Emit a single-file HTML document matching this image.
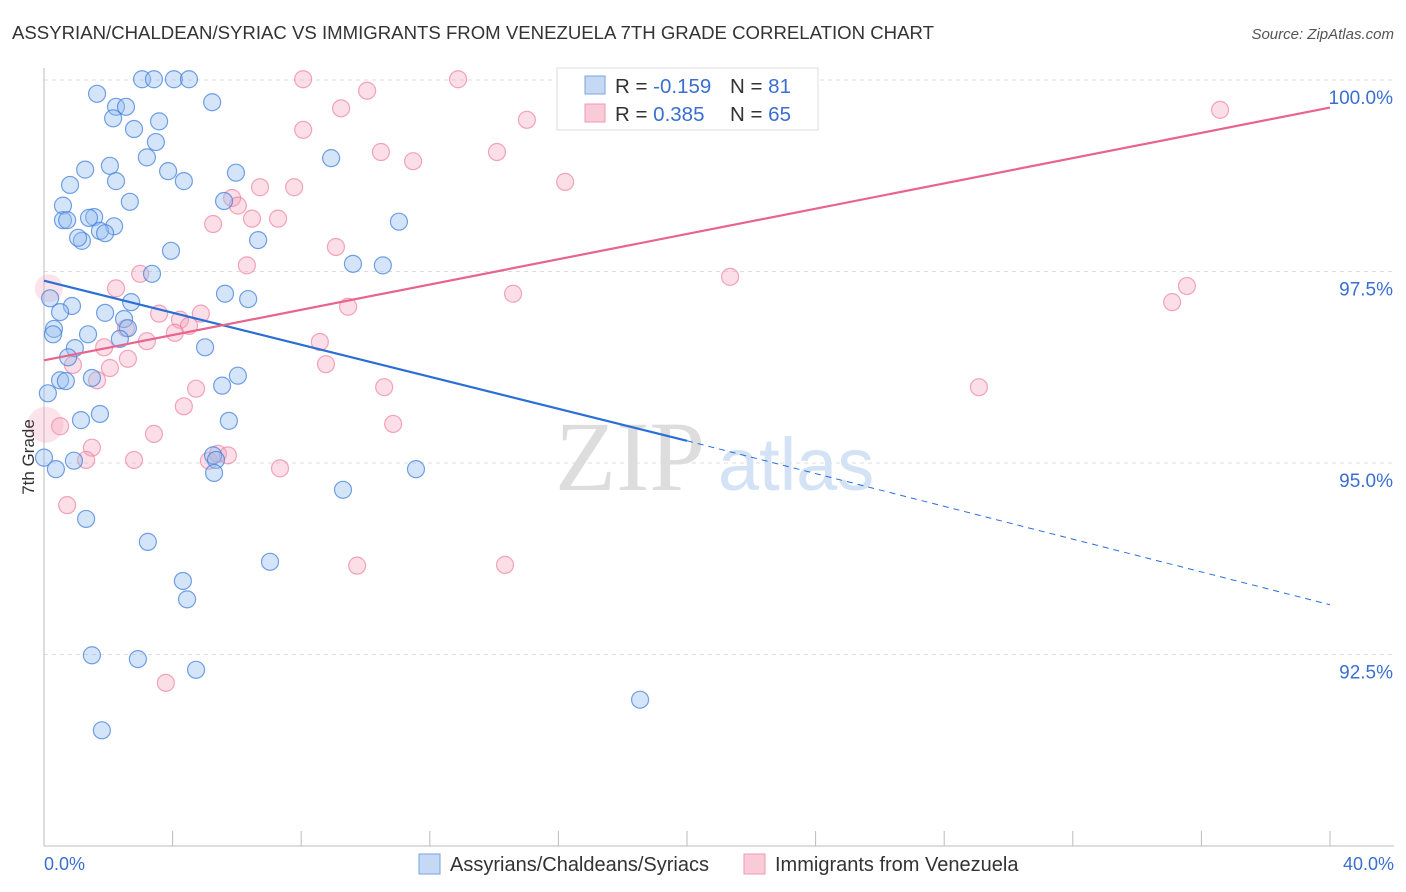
<!DOCTYPE html>
<html><head><meta charset="utf-8"><style>
body{margin:0;background:#fff;font-family:"Liberation Sans",sans-serif;}
svg{display:block}
</style></head><body>
<svg width="1406" height="892">
<text x="12" y="39" font-size="18.6" fill="#333">ASSYRIAN/CHALDEAN/SYRIAC VS IMMIGRANTS FROM VENEZUELA 7TH GRADE CORRELATION CHART</text>
<text x="1394" y="39" font-size="15" fill="#555" font-style="italic" text-anchor="end">Source: ZipAtlas.com</text>
<g id="grid"></g>
<line x1="44" y1="68" x2="44" y2="846" stroke="#bbb"/>
<line x1="44" y1="846" x2="1394" y2="846" stroke="#bbb"/>
<text x="555" y="490" font-size="100" fill="#ddd" font-family="Liberation Serif,serif">ZIP</text>
<text x="718" y="490" font-size="74" fill="#d3e2f5">atlas</text>
<g id="pts"></g>
<g id="lines"></g>
<text x="34" y="457" font-size="17" fill="#333" transform="rotate(-90 34 457)" text-anchor="middle">7th Grade</text>
<text x="44" y="870" font-size="18" fill="#3a6fd0">0.0%</text>
<text x="1394" y="870" font-size="18" fill="#3a6fd0" text-anchor="end">40.0%</text>
<g>
<rect x="557" y="68" width="261" height="62" fill="#fff" stroke="#ddd"/>
<rect x="585" y="76" width="20" height="18" fill="#c5d9f5" stroke="#7aa3e0"/>
<rect x="585" y="104" width="20" height="18" fill="#f9cbd8" stroke="#ee9ab2"/>
<text x="615" y="93" font-size="20.5" fill="#333">R = <tspan fill="#3a6fd0">-0.159</tspan></text>
<text x="730" y="93" font-size="20.5" fill="#333">N = <tspan fill="#3a6fd0"> 81</tspan></text>
<text x="615" y="121" font-size="20.5" fill="#333">R = <tspan fill="#3a6fd0"> 0.385</tspan></text>
<text x="730" y="121" font-size="20.5" fill="#333">N = <tspan fill="#3a6fd0">65</tspan></text>
</g>
<g>
<rect x="419" y="854" width="21" height="20" fill="#c5d9f5" stroke="#7aa3e0"/>
<text x="450" y="871" font-size="20" fill="#333">Assyrians/Chaldeans/Syriacs</text>
</g>
<g>
<rect x="744" y="854" width="21" height="20" fill="#f9cbd8" stroke="#ee9ab2"/>
<text x="775" y="871" font-size="20" fill="#333">Immigrants from Venezuela</text>
</g>
</svg>
<script>
const yTicks=[100,97.5,95,92.5];
const yTickLabels=["100.0%","97.5%","95.0%","92.5%"];
const xTicks=[0,4,8,12,16,20,24,28,32,36,40];
const bluePx=[[142,79],[154,79],[174,79],[189,79],[97,94],[212,102],[116,107],[126,107],[113,118],[159,121],[134,129],[156,142],[147,157],[331,158],[110,166],[85,170],[168,171],[116,181],[184,181],[236,173],[70,185],[130,202],[224,201],[63,206],[399,222],[63,220],[67,220],[94,217],[89,218],[114,226],[100,231],[105,233],[82,241],[78,238],[258,240],[171,251],[353,264],[383,265],[152,274],[225,294],[248,299],[50,298],[131,302],[72,306],[60,312],[105,313],[124,319],[54,329],[53,334],[128,328],[88,334],[120,339],[205,347],[75,348],[68,357],[238,376],[92,378],[222,386],[60,380],[66,381],[48,393],[100,414],[81,420],[229,421],[213,455],[216,460],[44,458],[74,461],[56,469],[214,473],[416,469],[343,490],[86,519],[148,542],[270,562],[183,581],[187,599],[92,655],[138,659],[196,670],[640,700],[102,730]];
const pinkPx=[[303,79],[458,79],[1220,110],[367,91],[341,108],[527,120],[303,130],[381,152],[497,152],[413,161],[565,182],[260,187],[294,187],[232,198],[238,206],[213,224],[252,219],[278,219],[336,247],[247,265],[140,274],[730,277],[1187,286],[1172,302],[116,288],[513,294],[348,307],[201,314],[159,314],[180,320],[189,326],[175,333],[126,328],[147,341],[320,342],[104,347],[73,365],[110,368],[128,359],[326,364],[97,380],[196,389],[384,387],[979,387],[184,406],[60,426],[393,424],[154,434],[92,448],[86,460],[134,460],[209,461],[218,454],[228,455],[280,468],[67,505],[357,566],[505,565],[166,683]];
const blueX=bluePx.map(p=>+((p[0]-44)/1286*40).toFixed(2)), blueY=bluePx.map(p=>+(100-(p[1]-80)/76.6).toFixed(2));
const pinkX=pinkPx.map(p=>+((p[0]-44)/1286*40).toFixed(2)), pinkY=pinkPx.map(p=>+(100-(p[1]-80)/76.6).toFixed(2));
const bigPinkX=[0.15,0.05], bigPinkY=[97.28,95.5], bigPinkR=[14,18];
const blueTrend=[[0,97.38],[20,95.29],[40,93.15]];
const pinkTrend=[[0,96.34],[40,99.64]];
const X=v=>44+v/40*1286, Y=v=>80+(100-v)*76.6;
const NS="http://www.w3.org/2000/svg";
function mk(t,a,parent){const e=document.createElementNS(NS,t);for(const k in a)e.setAttribute(k,a[k]);parent.appendChild(e);return e;}
const grid=document.getElementById('grid');
yTicks.forEach((v,i)=>{
 const l=mk('line',{x1:44,x2:1394,y1:Y(v),y2:Y(v),stroke:'#ddd','stroke-dasharray':'4,4'},grid);
 
 
 const t=mk('text',{x:1393,y:Y(v)+24,'font-size':19,fill:'#3a6fd0','text-anchor':'end'},grid);
 t.textContent=yTickLabels[i];
 
 
});
xTicks.forEach(v=>{
 const l=mk('line',{x1:X(v),x2:X(v),y1:831,y2:846,stroke:'#bbb'},grid);
 
 
});
const pts=document.getElementById('pts');
pinkX.forEach((x,i)=>{
 const c=mk('circle',{cx:X(x),cy:Y(pinkY[i]),r:8.5,fill:'rgba(244,160,185,0.35)',stroke:'rgba(236,130,160,0.7)','stroke-width':1.2},pts);
 
 
});
bigPinkX.forEach((x,i)=>{
 const c=mk('circle',{cx:X(x),cy:Y(bigPinkY[i]),r:bigPinkR[i],fill:'rgba(244,160,185,0.3)',stroke:'none'},pts);
 
 
});
blueX.forEach((x,i)=>{
 const c=mk('circle',{cx:X(x),cy:Y(blueY[i]),r:8.5,fill:'rgba(150,190,240,0.4)',stroke:'rgba(70,130,220,0.75)','stroke-width':1.2},pts);
 
 
});
const lines=document.getElementById('lines');
let b=mk('line',{x1:X(blueTrend[0][0]),y1:Y(blueTrend[0][1]),x2:X(blueTrend[1][0]),y2:Y(blueTrend[1][1]),stroke:'#2a6fd6','stroke-width':2.2},lines);


let bd=mk('line',{x1:X(blueTrend[1][0]),y1:Y(blueTrend[1][1]),x2:X(blueTrend[2][0]),y2:Y(blueTrend[2][1]),stroke:'#2a6fd6','stroke-width':1,'stroke-dasharray':'6,5'},lines);


let p=mk('line',{x1:X(pinkTrend[0][0]),y1:Y(pinkTrend[0][1]),x2:X(pinkTrend[1][0]),y2:Y(pinkTrend[1][1]),stroke:'#e8648c','stroke-width':2.2},lines);


</script>
</body></html>
